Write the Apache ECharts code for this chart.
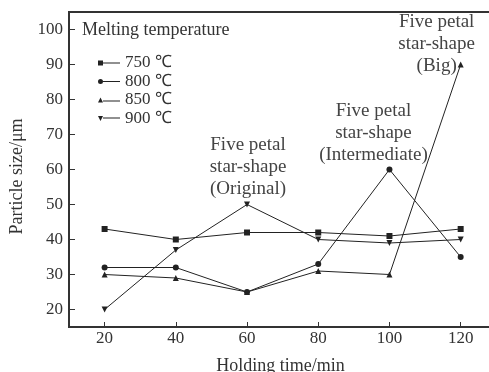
<!DOCTYPE html>
<html>
<head>
	<meta charset="UTF-8">
	<title></title>
	<style>
		html, body { margin: 0; padding: 0; background: #fff; }
		#chart { width: 489px; height: 372px; }
	</style>
	<script src="https://cdn.jsdelivr.net/npm/echarts@6/dist/echarts.min.js"></script>
</head>
<body>
	<div id="chart"></div>
	<script>
		var time = [20, 40, 60, 80, 100, 120];
		var s750 = [43, 40, 42, 42, 41, 43];
		var s800 = [32, 32, 25, 33, 60, 35];
		var s850 = [30, 29, 25, 31, 30, 90];
		var s900 = [20, 37, 50, 40, 39, 40];
		var xTicks = [20, 40, 60, 80, 100, 120];
		var yTicks = [20, 30, 40, 50, 60, 70, 80, 90, 100];

		var font = 'Liberation Serif';
		var ink = '#333';
		var downTri = 'path://M0,0L10,0L5,10Z';

		function pairs(ys) {
			return time.map(function (t, i) { return [t, ys[i]]; });
		}

		// text note hung on a data point
		function note(x, y, text, off) {
			return {
				coord: [x, y],
				symbol: 'circle',
				symbolSize: 0,
				label: {
					show: true,
					position: 'inside',
					offset: off,
					formatter: text,
					fontFamily: font,
					fontSize: 19,
					lineHeight: 22,
					color: '#444'
				}
			};
		}

		function line(name, ys, symbol, marks) {
			var s = {
				name: name,
				type: 'line',
				data: pairs(ys),
				symbol: symbol,
				symbolSize: 6,
				showAllSymbol: true,
				itemStyle: { color: '#222' },
				lineStyle: { color: '#222', width: 1 },
				animation: false
			};
			if (marks) {
				s.markPoint = { data: marks, animation: false };
			}
			return s;
		}

		var mychart = echarts.init(document.getElementById('chart'));
		mychart.setOption({
			animation: false,
			title: {
				text: 'Melting temperature',
				left: 77,
				top: 16,
				textStyle: { fontFamily: font, fontSize: 18, fontWeight: 'normal', color: ink }
			},
			legend: {
				orient: 'vertical',
				left: 93,
				top: 49,
				itemWidth: 22,
				itemHeight: 5,
				itemGap: 0.5,
				textStyle: { fontFamily: font, fontSize: 17, color: ink, lineHeight: 18 },
				data: [
					{ name: '750 ℃', icon: 'path://M0,0h5v5h-5zM5,2h17v1h-17z' },
					{ name: '800 ℃', icon: 'path://M0,2.5a2.5,2.5 0 1,0 5,0a2.5,2.5 0 1,0 -5,0zM5,2h17v1h-17z' },
					{ name: '850 ℃', icon: 'path://M0,5L2.5,0L5,5zM5,3h17v1h-17z' },
					{ name: '900 ℃', icon: 'path://M0,0h5l-2.5,5zM5,1.5h17v1h-17z' }
				]
			},
			grid: {
				left: 69,
				top: 12,
				right: -3,
				bottom: 45,
				outerBoundsMode: 'none',
				show: true,
				borderColor: '#333',
				borderWidth: 2
			},
			xAxis: {
				type: 'value',
				min: 10,
				max: 128.8,
				name: 'Holding time/min',
				nameLocation: 'middle',
				nameGap: 30,
				nameTextStyle: { fontFamily: font, fontSize: 18, color: ink },
				axisLine: { show: true, lineStyle: { color: '#333', width: 2 } },
				axisTick: { show: true, inside: true, length: 5, customValues: xTicks, lineStyle: { color: '#333' } },
				axisLabel: { customValues: xTicks, margin: 3, fontFamily: font, fontSize: 17, color: ink },
				splitLine: { show: false }
			},
			yAxis: {
				type: 'value',
				min: 15,
				max: 105,
				name: 'Particle size/μm',
				nameLocation: 'middle',
				nameGap: 43,
				nameTextStyle: { fontFamily: font, fontSize: 18, color: ink, padding: [0, 14, 0, 0] },
				axisLine: { show: true, lineStyle: { color: '#333', width: 2 } },
				axisTick: { show: true, inside: true, length: 6, customValues: yTicks, lineStyle: { color: '#333' } },
				axisLabel: { customValues: yTicks, margin: 6, fontFamily: font, fontSize: 17, color: ink },
				splitLine: { show: false }
			},
			series: [
				line('750 ℃', s750, 'rect'),
				line('800 ℃', s800, 'circle', [
					note(time[4], s800[4], 'Five petal\nstar-shape\n(Intermediate)', [-16, -36])
				]),
				line('850 ℃', s850, 'triangle', [
					note(time[5], s850[5], 'Five petal\nstar-shape\n(Big)', [-24, -20])
				]),
				line('900 ℃', s900, downTri, [
					note(time[2], s900[2], 'Five petal\nstar-shape\n(Original)', [1, -37])
				])
			]
		});
	</script>
</body>
</html>
